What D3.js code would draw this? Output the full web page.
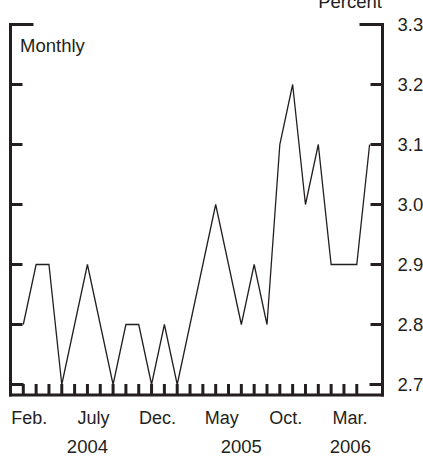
<!DOCTYPE html>
<html><head><meta charset="utf-8">
<script src="https://cdn.jsdelivr.net/npm/d3@7"></script>
<style>
html,body{margin:0;padding:0;background:#fff;}
text{font-family:"Liberation Sans",Arial,Helvetica,sans-serif;fill:#231f20;}
</style></head>
<body>
<svg id="c" width="423" height="459"></svg>
<script>
// Data: monthly values, Feb 2004 - May 2006
const months = ["2004-02","2004-03","2004-04","2004-05","2004-06","2004-07","2004-08","2004-09","2004-10","2004-11","2004-12",
  "2005-01","2005-02","2005-03","2005-04","2005-05","2005-06","2005-07","2005-08","2005-09","2005-10","2005-11","2005-12",
  "2006-01","2006-02","2006-03","2006-04","2006-05"];
const values = [2.8,2.9,2.9,2.7,2.8,2.9,2.8,2.7,2.8,2.8,2.7,
  2.8,2.7,2.8,2.9,3.0,2.9,2.8,2.9,2.8,3.1,3.2,3.0,
  3.1,2.9,2.9,2.9,3.1];
const yTicks = [2.7,2.8,2.9,3.0,3.1,3.2,3.3];
const monthLabels = [{m:"2004-02",t:"Feb."},{m:"2004-07",t:"July"},{m:"2004-12",t:"Dec."},
  {m:"2005-05",t:"May"},{m:"2005-10",t:"Oct."},{m:"2006-03",t:"Mar."}];
const yearLabels = [{t:"2004",pos:5},{t:"2005",pos:17},{t:"2006",pos:25.5}];

const svg = d3.select("#c");
const ink = "#231f20";
const L = 10.5, R = 382.5, B = 395;
const x = d3.scaleLinear().domain([0, months.length-1]).range([23.3, 369.6]);
const y = d3.scaleLinear().domain([2.7, 3.3]).range([384.5, 24.5]);

// frame: left, right, bottom
svg.append("line").attr("x1",L).attr("x2",L).attr("y1",y(3.3)-1.5).attr("y2",B+1.5).attr("stroke",ink).attr("stroke-width",3);
svg.append("line").attr("x1",R).attr("x2",R).attr("y1",y(3.3)-1.5).attr("y2",B+1.5).attr("stroke",ink).attr("stroke-width",3);
svg.append("line").attr("x1",L-1.5).attr("x2",R+1.5).attr("y1",B).attr("y2",B).attr("stroke",ink).attr("stroke-width",3);

// y ticks both sides
const tl = d => d===3.3 ? 23 : (d===2.7 ? 13 : 12);
svg.selectAll(".lt").data(yTicks).join("line")
  .attr("x1",L).attr("x2",d=>L+tl(d)).attr("y1",d=>y(d)).attr("y2",d=>y(d))
  .attr("stroke",ink).attr("stroke-width",3);
svg.selectAll(".rt").data(yTicks).join("line")
  .attr("x1",R).attr("x2",d=>R-tl(d)).attr("y1",d=>y(d)).attr("y2",d=>y(d))
  .attr("stroke",ink).attr("stroke-width",3);
svg.selectAll(".yl").data(yTicks).join("text")
  .attr("x",397.5).attr("y",d=>y(d)).attr("dy","0.36em")
  .attr("font-size",18.5).text(d=>d3.format(".1f")(d));

// x ticks (month)
svg.selectAll(".xt").data(d3.range(months.length-1)).join("line")
  .attr("x1",d=>x(d)).attr("x2",d=>x(d)).attr("y1",B).attr("y2",B-11)
  .attr("stroke",ink).attr("stroke-width",3);

// month labels
svg.selectAll(".ml").data(monthLabels).join("text")
  .attr("x",d=>x(months.indexOf(d.m))+6).attr("y",424)
  .attr("text-anchor","middle").attr("font-size",18).text(d=>d.t);
svg.selectAll(".yrl").data(yearLabels).join("text")
  .attr("x",d=>x(d.pos)).attr("y",453)
  .attr("text-anchor","middle").attr("font-size",18.5).text(d=>d.t);

// series line
svg.append("path").datum(values)
  .attr("d", d3.line().x((d,i)=>x(i)).y(d=>y(d)))
  .attr("fill","none").attr("stroke",ink).attr("stroke-width",1.3).attr("stroke-linejoin","miter");

// titles
svg.append("text").attr("x",20).attr("y",52).attr("font-size",18.5).text("Monthly");
svg.append("text").attr("x",382).attr("y",8).attr("text-anchor","end").attr("font-size",18.5).text("Percent");
</script>
</body></html>
